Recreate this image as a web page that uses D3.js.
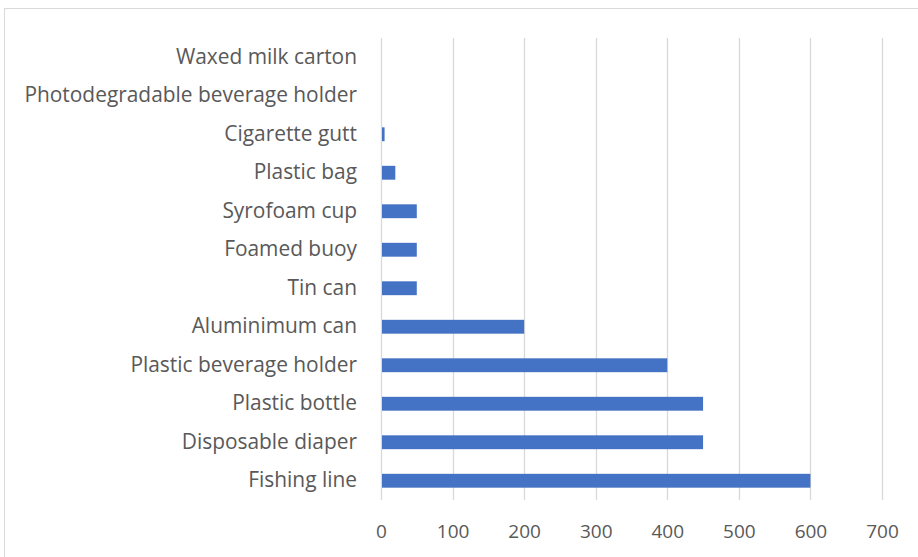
<!DOCTYPE html>
<html>
<head>
<meta charset="utf-8">
<script src="https://cdn.jsdelivr.net/npm/d3@7"></script>
<style>
  html, body { margin: 0; padding: 0; background: #fff; }
  svg { display: block; }
  text { font-family: "Open Sans", Lato, sans-serif; fill: #595959; }
</style>
</head>
<body>
<svg id="chart" width="918" height="557"></svg>
<script>
// Years for each item to break down in the ocean
const categories = [
  "Waxed milk carton",
  "Photodegradable beverage holder",
  "Cigarette gutt",
  "Plastic bag",
  "Syrofoam cup",
  "Foamed buoy",
  "Tin can",
  "Aluminimum can",
  "Plastic beverage holder",
  "Plastic bottle",
  "Disposable diaper",
  "Fishing line"
];
const years = [0.25, 0.5, 5, 20, 50, 50, 50, 200, 400, 450, 450, 600];
const xTicks = [0, 100, 200, 300, 400, 500, 600, 700];

const svg = d3.select("#chart");
const W = 918, H = 557;

// outer chart frame
svg.append("rect")
  .attr("x", 4.5).attr("y", 8.5)
  .attr("width", W + 10).attr("height", H + 10)
  .attr("fill", "#fff")
  .attr("stroke", "#d9d9d9").attr("stroke-width", 1);

const plot = { left: 381, right: 882, top: 38, bottom: 500 };

const x = d3.scaleLinear().domain([0, 700]).range([plot.left, plot.right]);
const y = d3.scaleBand().domain(categories).range([plot.top, plot.bottom]).paddingInner(0.64).paddingOuter(0.32);

// vertical gridlines
svg.append("g")
  .selectAll("line")
  .data(xTicks)
  .join("line")
  .attr("x1", d => Math.round(x(d)) + 0.5)
  .attr("x2", d => Math.round(x(d)) + 0.5)
  .attr("y1", plot.top)
  .attr("y2", plot.bottom)
  .attr("stroke", "#d9d9d9")
  .attr("stroke-width", 1.3);

// bars
svg.append("g")
  .selectAll("rect")
  .data(years)
  .join("rect")
  .attr("x", x(0) + 1)
  .attr("y", (d, i) => y(categories[i]))
  .attr("width", d => Math.max(0, x(d) - x(0) - 1))
  .attr("height", y.bandwidth())
  .attr("fill", "#4472c4");

// x axis labels
const xAxis = d3.axisBottom(x).tickValues(xTicks).tickSize(0).tickPadding(0);
const gx = svg.append("g").attr("transform", `translate(0, ${plot.bottom + 24})`).call(xAxis);
gx.select(".domain").remove();
gx.selectAll("text").attr("font-size", 19).attr("font-family", null).attr("fill", null);

// category labels
const yAxis = d3.axisLeft(y).tickSize(0).tickPadding(24);
const gy = svg.append("g").attr("transform", `translate(${plot.left}, 0)`).call(yAxis);
gy.select(".domain").remove();
gy.selectAll("text").attr("font-size", 20.9).attr("font-family", null).attr("fill", null);
</script>
</body>
</html>
